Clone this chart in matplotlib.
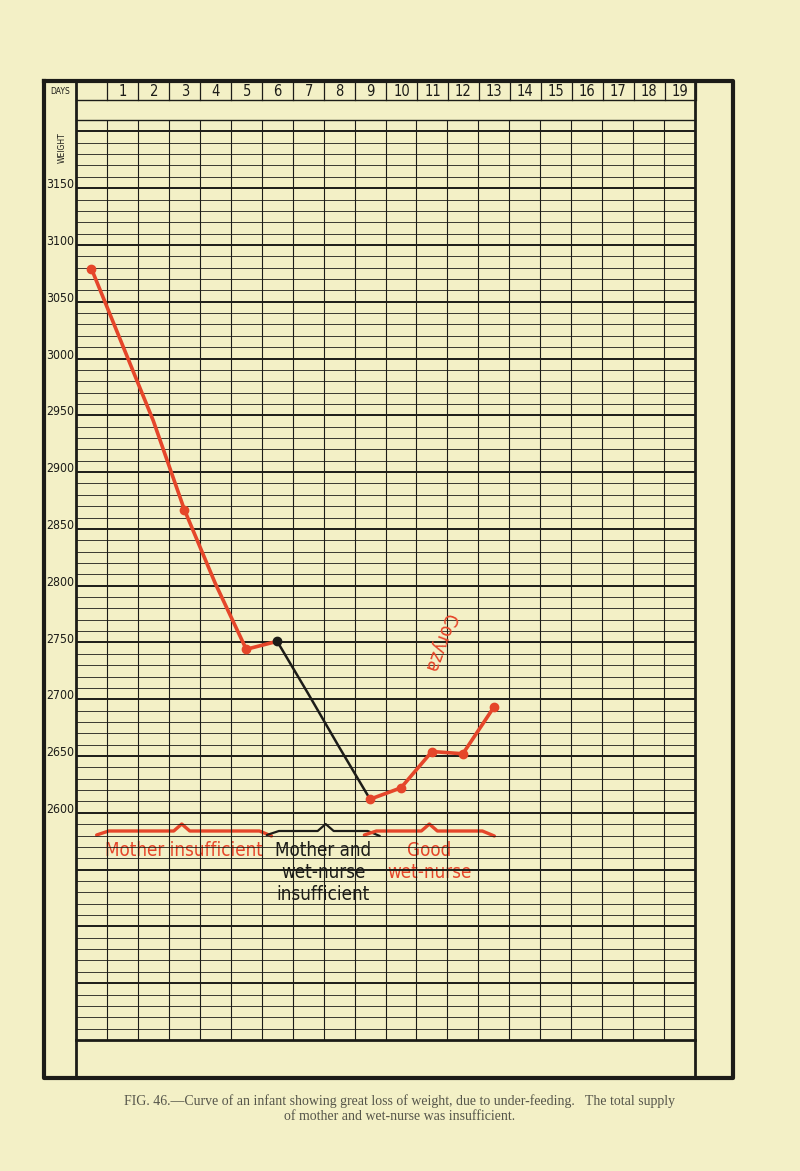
import matplotlib
matplotlib.use("Agg")
import matplotlib.pyplot as plt
import numpy as np

# weight curve (grams)
days = [0, 1, 2, 3, 4, 5, 6, 7, 8, 9, 10, 11, 12, 13]
weight = [3079, 3012, 2945, 2867, 2802, 2744, 2751, 2705, 2658, 2612, 2622, 2654, 2652, 2693]
dotted_days = [0, 3, 5, 6, 9, 10, 11, 12, 13]
black_span = (6, 9)
day_labels = [str(d) for d in range(1, 20)]
weight_ticks = [3150, 3100, 3050, 3000, 2950, 2900, 2850, 2800, 2750, 2700, 2650, 2600]
# (start day, end day, peak day, colour, text lines)
phases = [(0.15, 5.8, 2.9, "red", ["Mother insufficient"]),
          (5.65, 9.3, 7.55, "black", ["Mother and", "wet-nurse", "insufficient"]),
          (8.8, 13.0, 10.9, "red", ["Good", "wet-nurse"])]

BG = "#f3f0c6"
RED = "#e5462a"
INK = "#1c1c18"
COND = dict(family="DejaVu Sans", fontstretch="condensed")

W, H = 800, 1171
fig = plt.figure(figsize=(W / 100, H / 100), dpi=100)
fig.patch.set_facecolor(BG)
bg = fig.add_axes([0, 0, 1, 1])
bg.set_xlim(0, W)
bg.set_ylim(H, 0)
bg.axis("off")

GX0, GX1, GY0, GY1 = 76, 695, 120, 1040
ax = fig.add_axes([GX0 / W, 1 - GY1 / H, (GX1 - GX0) / W, (GY1 - GY0) / H])
ax.set_facecolor(BG)
ax.set_xlim(-0.5, 19.5)
ax.set_ylim(2400, 3210)
ax.axis("off")

# grid
for v in range(2410, 3211, 10):
    ax.axhline(v, color=INK, lw=1.4 if v % 50 == 0 else 0.6, zorder=1)
for k in range(20):
    ax.axvline(k + 0.5, color=INK, lw=0.8, zorder=1)


def px(d):
    return 92 + 30.95 * d


# frame
bg.plot([44, 733, 733, 44, 44], [81, 81, 1078, 1078, 81], color=INK, lw=3)
bg.plot([76, 76], [81, 1078], color=INK, lw=2)
bg.plot([695, 695], [81, 1078], color=INK, lw=2)
bg.plot([76, 695], [1040, 1040], color=INK, lw=2)
bg.plot([76, 695], [100, 100], color=INK, lw=1)
bg.plot([76, 695], [120, 120], color=INK, lw=1)
for k in range(20):
    x = px(k + 0.5)
    bg.plot([x, x], [81, 100], color=INK, lw=0.9)
for k, lab in enumerate(day_labels):
    bg.text(px(k + 1), 91, lab, ha="center", va="center", fontsize=10.5, color=INK, **COND)
bg.text(60, 91, "DAYS", ha="center", va="center", fontsize=5.5, color=INK)
bg.text(62, 148, "WEIGHT", ha="center", va="center", rotation=90, fontsize=5.5, color=INK)

yt = ax.get_yaxis_transform()
for t in weight_ticks:
    ax.text(-0.003, t + 3, str(t), transform=yt, ha="right", va="center",
            fontsize=8.8, color=INK, clip_on=False, **COND)

# curve
b0, b1 = black_span
ax.plot(days[:b0 + 1], weight[:b0 + 1], color=RED, lw=2.6, zorder=3)
ax.plot(days[b0:b1 + 1], weight[b0:b1 + 1], color=INK, lw=1.8, zorder=3)
ax.plot(days[b1:], weight[b1:], color=RED, lw=2.6, zorder=3)
for d in dotted_days:
    ax.plot(d, weight[d], "o", ms=6, color=INK if d == b0 else RED, zorder=4)

ax.text(11.25, 2750, "Coryza", rotation=-110, ha="center", va="center",
        fontsize=14, color=RED, zorder=4, **COND)

# braces and phase labels
for d0, d1, dm, col, lines in phases:
    c = RED if col == "red" else INK
    x0, x1, xm = px(d0), px(d1), px(dm)
    y = 832
    xs = [x0, x0 + 12, xm - 8, xm, xm + 8, x1 - 12, x1]
    ys = [y + 3, y - 1, y - 1, y - 8, y - 1, y - 1, y + 4]
    bg.plot(xs, ys, color=c, lw=2.4 if col == "red" else 1.6, solid_capstyle="round")
    for i, s in enumerate(lines):
        bg.text((x0 + x1) / 2, 850 + 22 * i, s, ha="center", va="center",
                fontsize=13.5, color=c, **COND)

fig.text(0.5, 1 - 1101 / H,
         "FIG. 46.\u2014Curve of an infant showing great loss of weight, due to under-feeding.   The total supply",
         ha="center", va="center", fontsize=10, color="#55554a", family="Liberation Serif")
fig.text(0.5, 1 - 1117 / H, "of mother and wet-nurse was insufficient.",
         ha="center", va="center", fontsize=10, color="#55554a", family="Liberation Serif")

fig.savefig("out.png", dpi=100, facecolor=BG)
